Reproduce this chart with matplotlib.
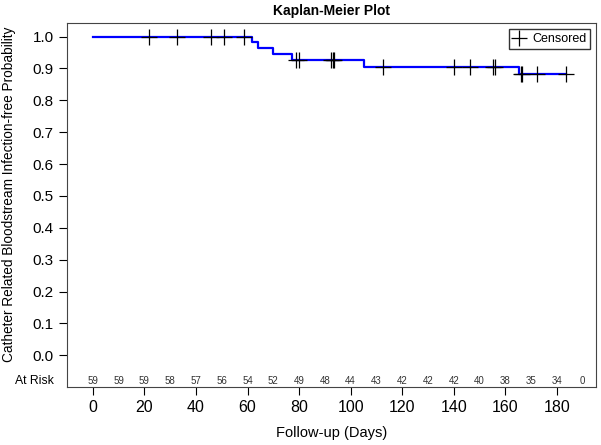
import numpy as np
import matplotlib
matplotlib.use("Agg")
import matplotlib.pyplot as plt

plt.rcParams['font.family'] = ['Liberation Sans', 'DejaVu Sans']

# step curve (day of event, survival after it)
step_days = [0, 61.7, 64.0, 70.0, 77.3, 105.0, 165.4, 183.3]
step_surv = [1.0, 0.982, 0.964, 0.946, 0.925, 0.903, 0.883, 0.883]

# censored observations
cens_days = [22.0, 32.8, 45.8, 51.0, 58.8, 78.9, 79.9, 92.3, 93.0, 93.6,
             112.7, 140.2, 146.1, 155.0, 155.8, 166.0, 166.6, 172.2, 183.3]

risk_days = list(range(0, 200, 10))
risk_n = [59, 59, 59, 58, 57, 56, 54, 52, 49, 48, 44, 43, 42, 42, 42, 40, 38, 35, 34, 0]


def surv_at(t):
    s = 1.0
    for d, v in zip(step_days, step_surv):
        if d <= t:
            s = v
    return s


fig, ax = plt.subplots(figsize=(6.01, 4.45), dpi=100)
fig.subplots_adjust(left=0.111, right=0.992, top=0.948, bottom=0.13)

ax.step(step_days, step_surv, where="post", color="#0000ff", lw=1.6, zorder=2)
cens_surv = [surv_at(d) for d in cens_days]
ax.plot(cens_days, cens_surv, ls="none", marker="+", ms=11, mew=0.9,
        color="black", label="Censored", zorder=3)

for d, n in zip(risk_days, risk_n):
    ax.text(d, -0.08, str(n), ha="center", va="center", fontsize=7, color="#333333")
ax.text(-0.025, -0.08, "At Risk", transform=ax.get_yaxis_transform(),
        ha="right", va="center", fontsize=8.8)

ax.set_xlim(-10.1, 195.2)
ax.set_ylim(-0.1, 1.042)
ax.set_xticks(range(0, 181, 20))
ax.set_yticks(np.arange(0, 1.01, 0.1))
ax.set_yticklabels(["%.1f" % v for v in np.arange(0, 1.01, 0.1)])
ax.tick_params(labelsize=11.5, length=6, width=0.8, direction="out")
ax.tick_params(axis="y", labelsize=11)
for sp_ in ax.spines.values():
    sp_.set_color("#444444")

ax.set_title("Kaplan-Meier Plot", fontsize=10, fontweight="bold", pad=6)
ax.set_xlabel("Follow-up (Days)", fontsize=10.5, labelpad=8)
ax.set_ylabel("Catheter Related Bloodstream Infection-free Probability", fontsize=9.8)
ax.yaxis.set_label_coords(-0.095, 0.53)

ax.legend(loc="upper right", fontsize=9, frameon=True, fancybox=False,
          edgecolor="black", handlelength=1.0, handletextpad=0.5,
          borderpad=0.3, borderaxespad=0.5)

fig.savefig("out.png", dpi=100)
